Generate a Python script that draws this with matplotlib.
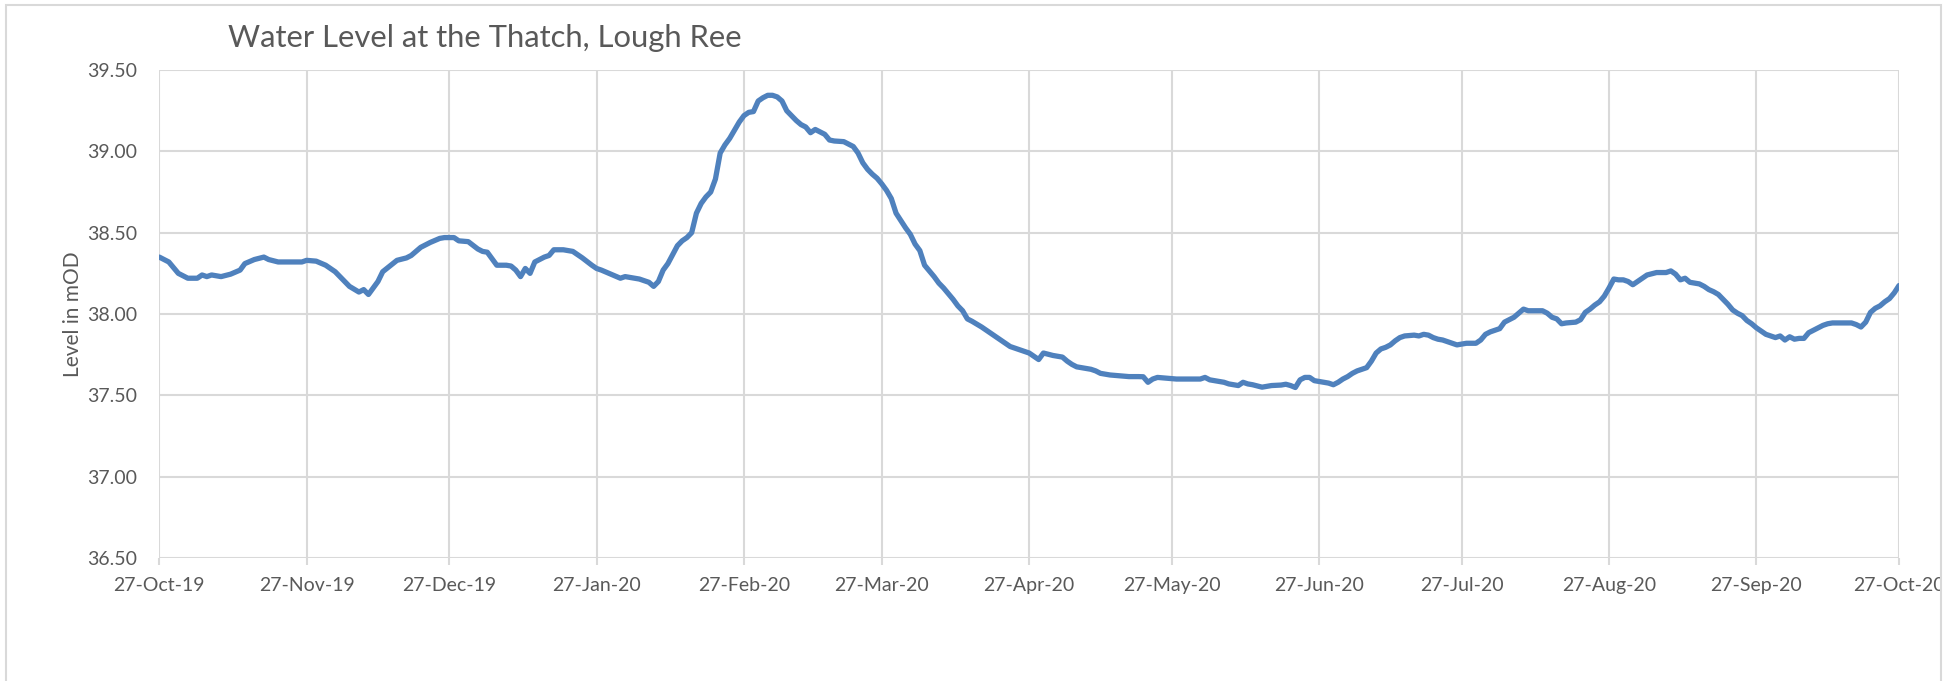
import matplotlib
matplotlib.use("Agg")
import matplotlib.pyplot as plt
import matplotlib.dates as mdates
from matplotlib.patches import Rectangle
import pandas as pd
import numpy as np

# ---------------- data ----------------
start_date = "2019-10-27"
day_offsets = [0, 2, 4, 6, 8, 9, 10, 11, 13, 15, 17, 18, 20, 22, 23, 25, 26, 28, 30,
               31, 33, 35, 37, 38, 40, 42, 43, 44, 46, 47, 50, 52, 53, 55, 57, 59, 60,
               62, 63, 65, 67, 68, 69, 71, 73, 74, 75, 76, 77, 78, 79, 81, 82, 83, 85,
               87, 89, 91, 92, 93, 95, 97, 98, 99, 101, 103, 104, 105, 106, 107, 109,
               110, 111, 112, 113, 114, 115, 116, 117, 118, 119, 120, 121, 122, 123,
               124, 125, 126, 127, 128, 129, 130, 131, 132, 133, 134, 135, 136, 137,
               138, 139, 140, 141, 142, 144, 145, 146, 147, 148, 149, 150, 151, 152,
               153, 154, 155, 156, 157, 158, 159, 160, 161, 162, 163, 164, 165, 166,
               167, 168, 169, 170, 171, 173, 175, 176, 178, 179, 180, 181, 182, 183,
               184, 185, 186, 188, 190, 191, 192, 193, 194, 196, 197, 198, 199, 200,
               202, 204, 206, 207, 208, 209, 210, 212, 214, 219, 220, 221, 222, 224,
               225, 227, 228, 229, 230, 232, 233, 234, 236, 237, 238, 239, 240, 241,
               242, 243, 244, 245, 246, 247, 248, 249, 250, 251, 252, 253, 254, 255,
               256, 257, 258, 259, 260, 261, 262, 264, 265, 266, 267, 268, 269, 270,
               272, 273, 274, 275, 277, 278, 279, 280, 282, 283, 284, 285, 286, 287,
               288, 290, 291, 292, 293, 294, 295, 296, 298, 299, 300, 301, 302, 303,
               304, 305, 306, 307, 308, 309, 310, 311, 312, 313, 315, 317, 318, 319,
               320, 321, 322, 324, 325, 326, 327, 328, 329, 330, 331, 332, 333, 334,
               335, 336, 337, 338, 339, 340, 341, 342, 343, 344, 345, 346, 347, 348,
               349, 350, 351, 352, 356, 357, 358, 359, 360, 361, 362, 363, 364, 365, 366]
levels = [38.35, 38.32, 38.25, 38.22, 38.22, 38.24, 38.23, 38.24, 38.23, 38.245, 38.27, 38.31,
          38.335, 38.35, 38.335, 38.32, 38.32, 38.32, 38.32,
          38.33, 38.325, 38.30, 38.26, 38.23, 38.17, 38.135, 38.15, 38.12, 38.20, 38.26,
          38.33, 38.345, 38.36, 38.41, 38.44, 38.465, 38.47,
          38.47, 38.45, 38.445, 38.40, 38.385, 38.38, 38.30, 38.30, 38.295, 38.27, 38.23,
          38.28, 38.25, 38.32, 38.35, 38.36, 38.395, 38.395,
          38.385, 38.345, 38.30, 38.28, 38.27, 38.245, 38.22, 38.23, 38.225, 38.215, 38.195,
          38.17, 38.20, 38.27, 38.31, 38.42,
          38.45, 38.47, 38.50, 38.62, 38.68, 38.72, 38.75, 38.83, 38.99, 39.04, 39.08,
          39.13, 39.18, 39.22,
          39.24, 39.245, 39.31, 39.33, 39.345, 39.345, 39.335, 39.31, 39.25, 39.22, 39.19,
          39.165, 39.15, 39.115,
          39.135, 39.12, 39.105, 39.07, 39.064, 39.06, 39.045, 39.03, 38.99, 38.93, 38.89,
          38.86, 38.835, 38.80,
          38.76, 38.71, 38.62, 38.575, 38.53, 38.49, 38.43, 38.39, 38.30, 38.265, 38.23,
          38.19, 38.16, 38.125,
          38.09, 38.05, 38.02, 37.97, 37.955, 37.92, 37.88, 37.86, 37.82, 37.80, 37.79,
          37.78, 37.77, 37.76,
          37.74, 37.72, 37.76, 37.745, 37.735, 37.71, 37.69, 37.675, 37.67, 37.66, 37.65,
          37.635, 37.63, 37.625,
          37.62, 37.615, 37.615, 37.614, 37.58, 37.60, 37.61, 37.605, 37.60, 37.60, 37.61,
          37.595, 37.59, 37.58,
          37.57, 37.56, 37.58, 37.57, 37.565, 37.55, 37.555, 37.56, 37.563, 37.568, 37.56,
          37.548, 37.595, 37.61,
          37.61, 37.59, 37.585, 37.58, 37.575, 37.565, 37.58, 37.60, 37.615, 37.635, 37.65,
          37.66, 37.67, 37.71,
          37.76, 37.785, 37.795, 37.81, 37.835, 37.855, 37.865, 37.87, 37.865, 37.875,
          37.87, 37.855, 37.845, 37.84,
          37.82, 37.81, 37.815, 37.82, 37.82, 37.84, 37.875, 37.89, 37.91, 37.95, 37.965,
          37.98, 38.005, 38.03,
          38.02, 38.02, 38.02, 38.005, 37.98, 37.97, 37.94, 37.945, 37.95, 37.965, 38.01,
          38.03, 38.055, 38.075,
          38.11, 38.16, 38.215, 38.21, 38.21, 38.20, 38.18, 38.20, 38.22, 38.24, 38.255,
          38.255, 38.265, 38.245,
          38.21, 38.22, 38.195, 38.185, 38.17, 38.15, 38.137, 38.12, 38.09, 38.06, 38.025,
          38.005, 37.99, 37.96,
          37.94, 37.915, 37.895, 37.875, 37.865, 37.855, 37.865, 37.84, 37.86, 37.845,
          37.85, 37.85, 37.885, 37.90,
          37.915, 37.93, 37.94, 37.945, 37.945, 37.935, 37.92, 37.95, 38.01, 38.035,
          38.05, 38.075, 38.095, 38.13, 38.175]

tick_dates = ["2019-10-27", "2019-11-27", "2019-12-27", "2020-01-27", "2020-02-27",
              "2020-03-27", "2020-04-27", "2020-05-27", "2020-06-27", "2020-07-27",
              "2020-08-27", "2020-09-27", "2020-10-27"]
y_ticks = [36.5, 37.0, 37.5, 38.0, 38.5, 39.0, 39.5]

title = "Water Level at the Thatch, Lough Ree"
y_label = "Level in mOD"

# ---------------- style ----------------
plt.rcParams["font.family"] = ["Lato", "DejaVu Sans"]
text_color = "#595959"
grid_color = "#d9d9d9"
line_color = "#4f81bd"

W, H = 1950, 681
fig = plt.figure(figsize=(W / 100, H / 100), dpi=100)
fig.patch.set_facecolor("white")

left, right, top, bottom = 159.3, 1899.0, 70.1, 557.9
ax = fig.add_axes([left / W, 1 - bottom / H, (right - left) / W, (bottom - top) / H])

dates = pd.to_datetime(start_date) + pd.to_timedelta(day_offsets, unit="D")
ax.plot(dates, levels, color=line_color, lw=3.8, solid_capstyle="round",
        solid_joinstyle="round", zorder=3)

tds = pd.to_datetime(tick_dates)
ax.set_xlim(tds[0], tds[-1])
ax.set_ylim(y_ticks[0], y_ticks[-1])
ax.set_xticks(tds)
ax.xaxis.set_major_formatter(mdates.DateFormatter("%d-%b-%y"))
ax.set_yticks(y_ticks)
ax.set_yticklabels([f"{v:.2f}" for v in y_ticks])

ax.grid(True, color=grid_color, lw=1.5, zorder=0)
for s in ax.spines.values():
    s.set_visible(False)
ax.tick_params(axis="x", colors=grid_color, length=5, width=1.5, pad=9,
               labelcolor=text_color, labelsize=14)
ax.tick_params(axis="y", length=0, pad=16, labelcolor=text_color, labelsize=14)
ax.set_axisbelow(True)

ax.set_ylabel(y_label, color=text_color, fontsize=15, labelpad=3)

fig.text(228 / W, 1 - 46.5 / H, title, color=text_color, fontsize=22.3,
         ha="left", va="baseline")

# chart-area border (clips the last x label like the original)
fig.patches.append(Rectangle((1941 / W, 0), 9 / W, 1, transform=fig.transFigure,
                             facecolor="white", edgecolor="none", zorder=20))
fig.patches.append(Rectangle((6 / W, -0.1), 1935 / W, 1.1 - 5 / H, transform=fig.transFigure,
                             facecolor="none", edgecolor=grid_color, lw=1.5, zorder=21))

fig.savefig("out.png", dpi=100, facecolor="white")
